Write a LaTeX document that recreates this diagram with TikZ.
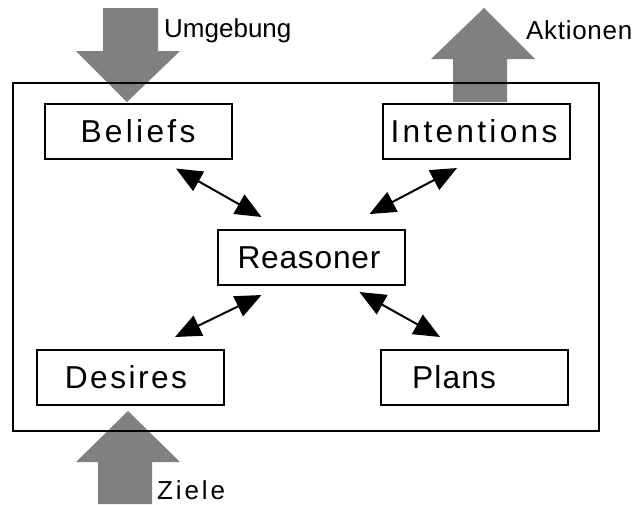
\documentclass[tikz,border=0pt]{standalone}
\usepackage{fontspec}
\setmainfont{Liberation Sans}
\usetikzlibrary{arrows.meta}
\definecolor{arrowgray}{RGB}{128,128,128}
\newcommand\spaced[2]{{\addfontfeature{LetterSpace=#1}#2}}
\begin{document}
\begin{tikzpicture}[x=1pt,y=-1pt,
  box/.style={draw, line width=2pt, minimum width=187pt, minimum height=55pt,
    inner sep=0pt, text height=22.7pt, text depth=0pt,
    font=\fontsize{31.7}{36}\selectfont},
  flow/.style={fill=arrowgray, draw=none},
  link/.style={line width=2pt,
    {Triangle[length=26pt,width=22pt]}-{Triangle[length=26pt,width=22pt]}},
  caption/.style={font=\fontsize{26}{30}\selectfont, anchor=base west, inner sep=0pt}]
\useasboundingbox (0,0) rectangle (637,504);

% broad grey arrows for input and output of the agent
\fill[flow] (103,8) -- (158,8) -- (158,51) -- (180,51) -- (127,102) -- (76,51) -- (103,51) -- cycle;
\fill[flow] (453,102) -- (507,102) -- (507,59) -- (535,59) -- (484,8) -- (431,59) -- (453,59) -- cycle;
\fill[flow] (98,504) -- (152,504) -- (152,462) -- (180,462) -- (128,411) -- (76,462) -- (98,462) -- cycle;

% agent boundary
\draw[line width=2pt] (13,83) rectangle (599,431);

% components
\node[box] (beliefs)    at (138,131)     {\spaced{10.4}{Beliefs}};
\node[box] (intentions) at (476.5,131.5) {\hspace*{-5pt}\spaced{10.3}{Intentions}};
\node[box] (reasoner)   at (311,257.5)   {\hspace*{-4pt}\spaced{2.5}{Reasoner}};
\node[box] (desires)    at (130.5,377.5) {\hspace*{-9pt}\spaced{7.7}{Desires}};
\node[box] (plans)      at (474.5,377.5) {\hspace*{-41pt}\spaced{3.7}{Plans}};

% end points of the links
\coordinate (b1) at ([shift={(38,9)}]beliefs.south);
\coordinate (r1) at ([shift={(45,-12)}]reasoner.north west);
\coordinate (i1) at ([shift={(-19.5,8)}]intentions.south);
\coordinate (r2) at ([shift={(-36,-15)}]reasoner.north east);
\coordinate (d1) at ([shift={(44.5,-12)}]desires.north);
\coordinate (r3) at ([shift={(45,9)}]reasoner.south west);
\coordinate (p1) at ([shift={(-34.5,-12)}]plans.north);
\coordinate (r4) at ([shift={(-46,6)}]reasoner.south east);

\draw[link] (b1) -- (r1);
\draw[link] (i1) -- (r2);
\draw[link] (d1) -- (r3);
\draw[link] (r4) -- (p1);

% labels of the grey arrows
\node[caption] (umgebung) at (164,37) {Umgebung};
\node[caption] (aktionen) at (526,39) {\spaced{2.7}{Aktionen}};
\node[caption] (ziele)    at (157,499) {\spaced{11}{Ziele}};
\end{tikzpicture}
\end{document}
